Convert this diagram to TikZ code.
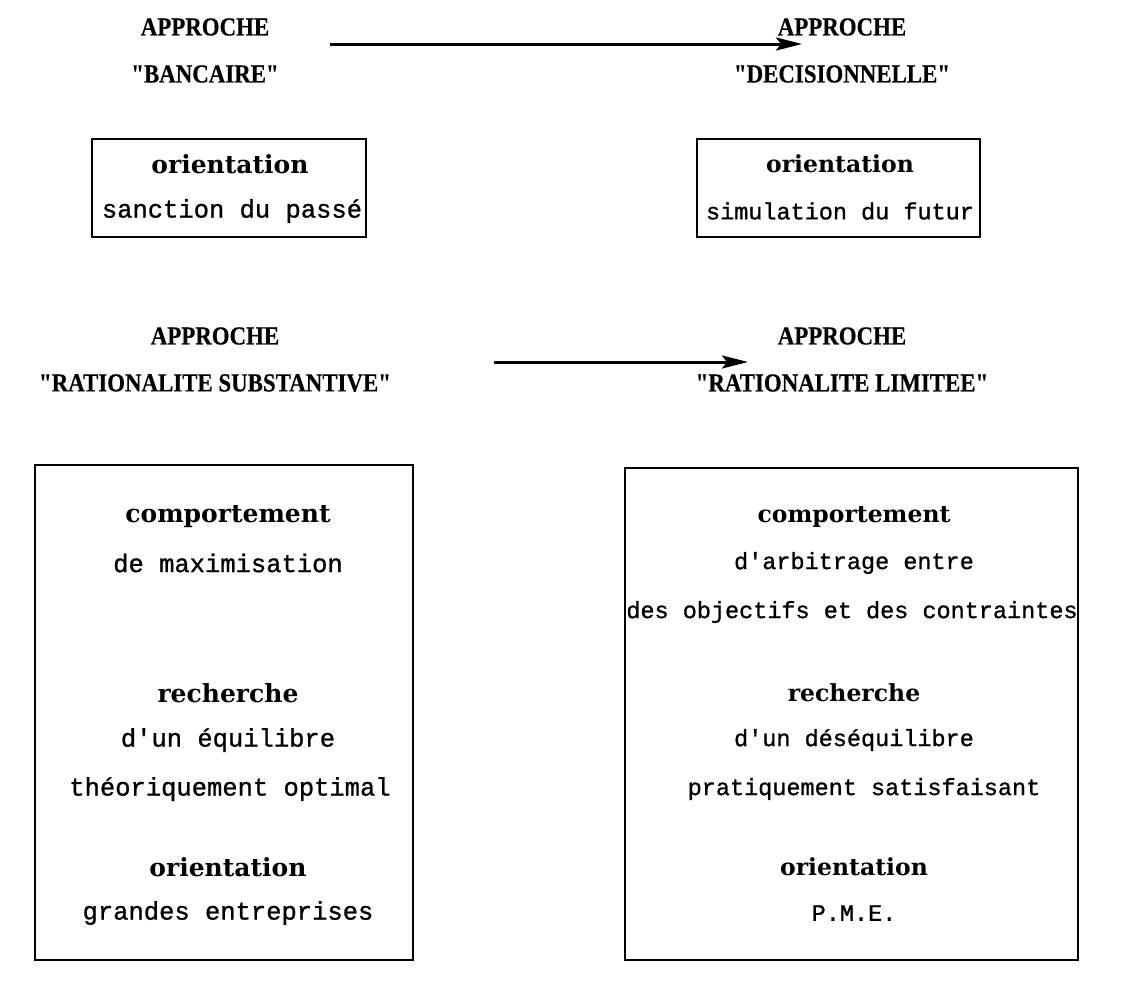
\documentclass[tikz,border=0pt]{standalone}
\usepackage{fontspec}
\setmainfont{Liberation Serif}
\newfontfamily\headfont{Liberation Serif}[FakeStretch=0.88, FakeBold=0.4]
\newfontfamily\keyfont{DejaVu Serif}
\newfontfamily\typefont{Liberation Mono}[FakeBold=1.0]
\usetikzlibrary{arrows.meta}
\begin{document}
\begin{tikzpicture}[x=1pt,y=-1pt,
  head/.style={font=\headfont\bfseries\fontsize{26}{30}\selectfont, inner sep=0pt},
  key/.style={font=\keyfont\bfseries\fontsize{25}{29}\selectfont, inner sep=0pt},
  keyR/.style={font=\keyfont\bfseries\fontsize{23.5}{28}\selectfont, inner sep=0pt},
  plain/.style={font=\typefont\fontsize{25.5}{30}\selectfont, inner sep=0pt},
  plainR/.style={font=\typefont\fontsize{23.5}{28}\selectfont, inner sep=0pt},
  frame/.style={draw, line width=2.8pt},
  link/.style={line width=3pt, -{Stealth[length=26pt, width=13pt, inset=5pt]}}]
  \useasboundingbox (0,0) rectangle (1130,999);

  % upper pair of approaches
  \node[head] (a1) at (205,27) {APPROCHE};
  \node[head] (a1b) at (205,74) {"BANCAIRE"};
  \node[head] (a2) at (842,27) {APPROCHE};
  \node[head] (a2b) at (842,74) {"DECISIONNELLE"};
  \coordinate (s1) at (330,44);
  \coordinate (e1) at (802,44);
  \draw[link] (s1) -- (e1);

  \draw[frame] (92,139) rectangle (366,237);
  \node[key] (o1) at (230,164) {orientation};
  \node[plain] (o1t) at (232,211) {sanction du passé};

  \draw[frame] (697,139) rectangle (980,237);
  \node[keyR] (o2) at (840,164) {orientation};
  \node[plainR] (o2t) at (840,211) {simulation du futur};

  % lower pair of approaches
  \node[head] (b1) at (215,336) {APPROCHE};
  \node[head] (b1b) at (215,383) {"RATIONALITE SUBSTANTIVE"};
  \node[head] (b2) at (842,336) {APPROCHE};
  \node[head] (b2b) at (842,383) {"RATIONALITE LIMITEE"};
  \coordinate (s2) at (494,362);
  \coordinate (e2) at (748,362);
  \draw[link] (s2) -- (e2);

  \draw[frame] (35,465) rectangle (413,960);
  \node[key] (c1) at (228,517) {comportement};
  \node[plain] (c1a) at (228,563) {de maximisation};
  \node[key] (r1) at (228,693) {recherche};
  \node[plain] (r1a) at (228,740) {d'un équilibre};
  \node[plain] (r1b) at (230,789) {théoriquement optimal};
  \node[key] (p1) at (228,867) {orientation};
  \node[plain] (p1a) at (228,913) {grandes entreprises};

  \draw[frame] (625,468) rectangle (1078,960);
  \node[keyR] (c2) at (854,517) {comportement};
  \node[plainR] (c2a) at (854,563) {d'arbitrage entre};
  \node[plainR] (c2b) at (852,612) {des objectifs et des contraintes};
  \node[keyR] (r2) at (854,693) {recherche};
  \node[plainR] (r2a) at (854,740) {d'un déséquilibre};
  \node[plainR] (r2b) at (864,789) {pratiquement satisfaisant};
  \node[keyR] (p2) at (854,867) {orientation};
  \node[plainR] (p2a) at (854,913) {P.M.E.};
\end{tikzpicture}
\end{document}
